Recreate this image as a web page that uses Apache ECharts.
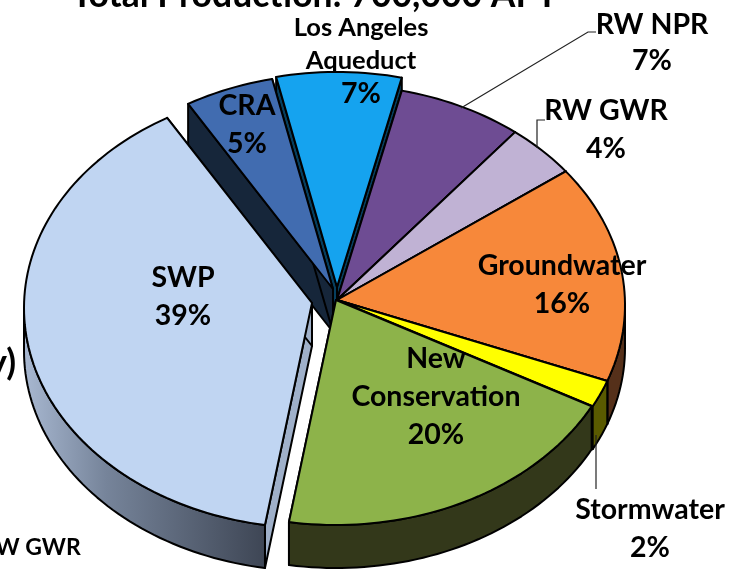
<!DOCTYPE html>
<html>
<head>
<meta charset="utf-8">
<style>html,body{margin:0;padding:0;background:#fff}#c{width:751px;height:569px}</style>
<script src="https://cdn.jsdelivr.net/npm/echarts@6/dist/echarts.min.js"></script>
</head>
<body>
<div id="c"></div>
<script>
const categories = ['RW NPR','RW GWR','Groundwater','Stormwater','New Conservation','SWP','CRA','Los Angeles Aqueduct'];
const values = [7,4,16,2,20,39,5,7];
const labelLines = [['RW NPR'],['RW GWR'],['Groundwater'],['Stormwater'],['New','Conservation'],['SWP'],['CRA'],['Los Angeles','Aqueduct']];
const topColors = ['#6e4c93','#c0b2d4','#f7883a','#ffff00','#8db34a','#c0d5f2','#416cb0','#15a3ef'];
const wallColors = ['#3a2850','#6a6275','#55301a','#5a5a00','#33381a','#9fb0c9','#16263a','#063f5f'];
const startAngle = 13;
const apexPoint = [337,300], rimCentre = [337,305], rx = 288, ry = 220, depth = 43;
const offsets = [[0,0],[0,0],[0,0],[0,0],[-1,0],[-25,3],[-4,-11],[0,-13]];
const paintOrder = [7,6,0,1,2,3,5,4];
const labelCentres = [[652,25,36],[606,111,38],[562,266,38],[650,510,38],[436,359,38],[183,278,38],[247,106,38],[361,28,33]];
const leaders = {0:[[461,108],[588,32],[596,32]],1:[[537,148],[537,120],[545,120]],3:[[596,435],[596,489]]};

const total = values.reduce((a,b)=>a+b,0);
const FONT = 'Lato, "Open Sans", sans-serif';
function pt(i,t,d){
  const r=t*Math.PI/180;
  return [rimCentre[0]+offsets[i][0]+rx*Math.sin(r), rimCentre[1]+offsets[i][1]-ry*Math.cos(r)+(d||0)];
}
function arc(i,a,b,d){
  const p=[]; const n=Math.max(2,Math.ceil(Math.abs(b-a)/1.5));
  for(let k=0;k<=n;k++) p.push(pt(i,a+(b-a)*k/n,d));
  return p;
}
function renderItem(params,api){
  const i=params.dataIndex;
  let a=startAngle;
  for(let k=0;k<i;k++) a+=values[k]/total*360;
  const b=a+values[i]/total*360;
  const z=paintOrder.indexOf(i)*10+1;
  const apex=[apexPoint[0]+offsets[i][0],apexPoint[1]+offsets[i][1]];
  const stroke={stroke:'#000',lineWidth:2,lineJoin:'round'};
  const children=[];
  const wall=(p,fill)=>children.push({type:'polygon',z2:z,shape:{points:p},style:Object.assign({fill},stroke)});
  const A=pt(i,a),B=pt(i,b);
  wall([apex,A,[A[0],A[1]+depth],[apex[0],apex[1]+depth]],wallColors[i]);
  wall([apex,B,[B[0],B[1]+depth],[apex[0],apex[1]+depth]],wallColors[i]);
  // outer wall: only the part of the rim that faces the viewer
  const lo=Math.max(a,90),hi=Math.min(b,270);
  if(hi>lo){
    const top=arc(i,lo,hi,0),bot=arc(i,hi,lo,depth);
    let fill=wallColors[i];
    if(i===5){
      fill={type:'linear',x:22,y:0,x2:262,y2:0,global:true,colorStops:[
        {offset:0,color:'#a9b9d2'},{offset:0.35,color:'#76849a'},{offset:1,color:'#3f4756'}]};
    }
    wall(top.concat(bot),fill);
  }
  children.push({type:'polygon',z2:z+1,shape:{points:[apex].concat(arc(i,a,b,0))},
    style:Object.assign({fill:topColors[i]},stroke)});
  if(leaders[i]) children.push({type:'polyline',z2:200,shape:{points:leaders[i]},style:{stroke:'#222',lineWidth:1.2,fill:null}});
  const lines=labelLines[i].concat([values[i]+'%']);
  const lc=labelCentres[i];
  lines.forEach((s,k)=>{
    children.push({type:'text',z2:300,style:{text:s,x:lc[0],y:lc[1]+k*lc[2],align:'center',verticalAlign:'middle',
      font:'bold '+(i===7&&k<2?25.5:28.5)+'px '+FONT,fill:'#000'}});
  });
  return {type:'group',children};
}
const chart=echarts.init(document.getElementById('c'),null,{width:751,height:569});
chart.setOption({
  animation:false,
  title:{text:'Total Production: 700,000 AFY',left:310,top:-27,textAlign:'center',
    textStyle:{fontFamily:FONT,fontWeight:'bold',fontSize:35.5,color:'#000'}},
  graphic:[
    {type:'text',left:-12,top:345,style:{text:'y)',font:'bold 36px '+FONT,fill:'#000'}},
    {type:'text',left:-19,top:536,style:{text:'RW GWR',font:'bold 23px '+FONT,fill:'#000'}}
  ],
  series:[{type:'custom',coordinateSystem:'none',renderItem,
    data:categories.map((name,i)=>({name,value:values[i]}))}]
});
</script>
</body>
</html>
